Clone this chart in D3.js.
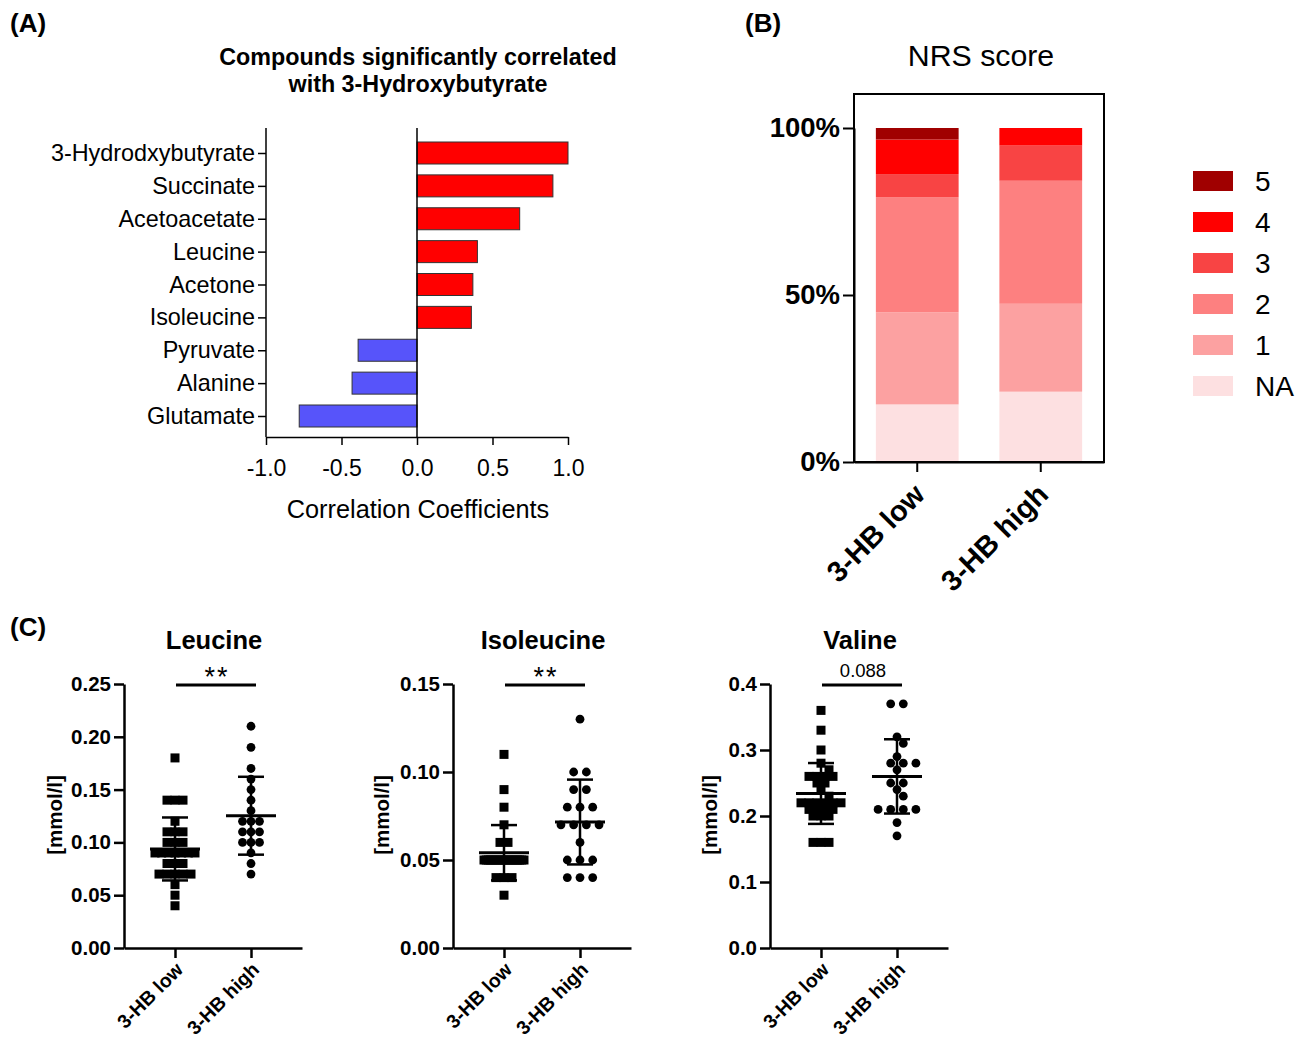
<!DOCTYPE html>
<html>
<head>
<meta charset="utf-8">
<script src="https://cdn.jsdelivr.net/npm/d3@7"></script>
<style>
  body { margin: 0; background: #fff; }
  svg { display: block; font-family: "Liberation Sans", Arial, sans-serif; }
</style>
</head>
<body>
<div id="chart"></div>
<script>
// ---------- data ----------
// (A) correlation bars
var compounds = ["3-Hydrodxybutyrate", "Succinate", "Acetoacetate", "Leucine", "Acetone",
                 "Isoleucine", "Pyruvate", "Alanine", "Glutamate"];
var corrCoefs = [1.0, 0.90, 0.68, 0.40, 0.37, 0.36, -0.39, -0.43, -0.78];
var corrTicks = [-1.0, -0.5, 0.0, 0.5, 1.0];

// (B) NRS score, counts per category (stacked to 100%)
var nrsGroups = ["3-HB low", "3-HB high"];
var nrsKeys = ["NA", "1", "2", "3", "4", "5"];
var nrsLow = [5, 8, 10, 2, 3, 1];
var nrsHigh = [4, 5, 7, 2, 1, 0];
var nrsColors = ["#fde0e1", "#fca1a1", "#fd8080", "#f84444", "#ff0000", "#a00000"];
var nrsTicks = [0, 0.5, 1];

// (C) individual values [mmol/l]
var hbGroups = ["3-HB low", "3-HB high"];
var leucineLow = [0.18, 0.14, 0.14, 0.14, 0.12, 0.11, 0.11, 0.11, 0.10, 0.10, 0.10,
                  0.09, 0.09, 0.09, 0.09, 0.09, 0.09, 0.09, 0.08, 0.08, 0.08,
                  0.07, 0.07, 0.07, 0.07, 0.07, 0.06, 0.05, 0.04];
var leucineHigh = [0.21, 0.19, 0.17, 0.16, 0.15, 0.14, 0.13, 0.12, 0.12, 0.12,
                   0.11, 0.11, 0.11, 0.10, 0.10, 0.10, 0.09, 0.08, 0.07];
var isoleucineLow = [0.11, 0.09, 0.08, 0.07, 0.06, 0.06,
                     0.05, 0.05, 0.05, 0.05, 0.05, 0.05, 0.05, 0.05, 0.05, 0.05,
                     0.05, 0.05, 0.05, 0.05, 0.05, 0.05, 0.05, 0.05, 0.05,
                     0.04, 0.04, 0.04, 0.03];
var isoleucineHigh = [0.13, 0.10, 0.10, 0.09, 0.09, 0.08, 0.08, 0.08, 0.07, 0.07,
                      0.07, 0.07, 0.06, 0.05, 0.05, 0.05, 0.04, 0.04, 0.04];
var valineLow = [0.36, 0.33, 0.30, 0.28, 0.27, 0.26, 0.26, 0.26, 0.26, 0.25, 0.25,
                 0.24, 0.23, 0.22, 0.22, 0.22, 0.22, 0.22, 0.22, 0.21, 0.21, 0.21, 0.21,
                 0.20, 0.20, 0.20, 0.16, 0.16, 0.16];
var valineHigh = [0.37, 0.37, 0.32, 0.31, 0.29, 0.28, 0.28, 0.28, 0.27, 0.25, 0.25,
                  0.24, 0.23, 0.21, 0.21, 0.21, 0.21, 0.19, 0.17];
var leucineTicks = [0, 0.05, 0.10, 0.15, 0.20, 0.25];
var isoleucineTicks = [0, 0.05, 0.10, 0.15];
var valineTicks = [0, 0.1, 0.2, 0.3, 0.4];

// ---------- svg ----------
var svg = d3.select("#chart").append("svg")
    .attr("width", 1306)
    .attr("height", 1043);

function inkAxis(g, sw) {
  g.selectAll("path, line").attr("stroke", "#000").attr("stroke-width", sw);
}

function panelLetter(txt, x, y) {
  svg.append("text").attr("x", x).attr("y", y)
    .attr("font-size", 26).attr("font-weight", "bold").text(txt);
}

// ================= (A) =================
panelLetter("(A)", 10, 32);

var xA = d3.scaleLinear().domain([-1, 1]).range([266, 568]);
var yA = d3.scalePoint().domain(compounds).range([153, 416]);

svg.selectAll(".titleA")
  .data(["Compounds significantly correlated", "with 3-Hydroxybutyrate"])
  .join("text")
    .attr("x", 418)
    .attr("y", (d, i) => 65 + i * 27)
    .attr("text-anchor", "middle")
    .attr("font-size", 23.3)
    .attr("font-weight", "bold")
    .text(d => d);

svg.append("g")
  .selectAll("rect")
  .data(compounds)
  .join("rect")
    .attr("x", (d, i) => xA(Math.min(0, corrCoefs[i])))
    .attr("y", d => yA(d) - 11)
    .attr("width", (d, i) => Math.abs(xA(corrCoefs[i]) - xA(0)))
    .attr("height", 22)
    .attr("fill", (d, i) => corrCoefs[i] > 0 ? "#ff0000" : "#5754fa")
    .attr("stroke", "#333")
    .attr("stroke-width", 1);

// zero line
svg.append("line")
  .attr("x1", xA(0)).attr("x2", xA(0))
  .attr("y1", 128).attr("y2", 437)
  .attr("stroke", "#000").attr("stroke-width", 1.5);

var yAxisA = svg.append("g")
  .attr("transform", "translate(" + xA(-1) + ",0)")
  .call(d3.axisLeft(yA).tickSize(8).tickSizeOuter(0).tickPadding(3));
yAxisA.select(".domain").remove();
yAxisA.append("line").attr("y1", 128).attr("y2", 437);
inkAxis(yAxisA, 1.5);
yAxisA.selectAll("text").attr("font-size", 23.4).attr("fill", "#000")
  .attr("font-family", "Liberation Sans, Arial, sans-serif");

var xAxisA = svg.append("g")
  .attr("transform", "translate(0,437)")
  .call(d3.axisBottom(xA).tickValues(corrTicks).tickSize(8).tickSizeOuter(0)
        .tickFormat(d => d.toFixed(1)));
inkAxis(xAxisA, 1.5);
xAxisA.selectAll("text").attr("font-size", 23).attr("fill", "#000")
  .attr("y", 23).attr("font-family", "Liberation Sans, Arial, sans-serif");

svg.append("text")
  .attr("x", 418).attr("y", 518)
  .attr("text-anchor", "middle")
  .attr("font-size", 25.3)
  .text("Correlation Coefficients");

// ================= (B) =================
panelLetter("(B)", 745, 32);

svg.append("text")
  .attr("x", 981).attr("y", 66)
  .attr("text-anchor", "middle")
  .attr("font-size", 30.3)
  .text("NRS score");

var nrsRows = nrsGroups.map(function(g, i) {
  var row = {group: g};
  var counts = i === 0 ? nrsLow : nrsHigh;
  nrsKeys.forEach((k, j) => row[k] = counts[j]);
  return row;
});
var nrsSeries = d3.stack().keys(nrsKeys).offset(d3.stackOffsetExpand)(nrsRows);

var xB = d3.scaleBand().domain(nrsGroups).range([854, 1104])
  .paddingInner(0.33).paddingOuter(0.177);
var yB = d3.scaleLinear().domain([0, 1]).range([462, 128]);
var colorB = d3.scaleOrdinal().domain(nrsKeys).range(nrsColors);

svg.append("g")
  .selectAll("g")
  .data(nrsSeries)
  .join("g")
    .attr("fill", d => colorB(d.key))
  .selectAll("rect")
  .data(d => d)
  .join("rect")
    .attr("x", d => xB(d.data.group))
    .attr("y", d => yB(d[1]))
    .attr("height", d => yB(d[0]) - yB(d[1]))
    .attr("width", xB.bandwidth());

// frame
svg.append("rect")
  .attr("x", 854).attr("y", 94)
  .attr("width", 250).attr("height", 368)
  .attr("fill", "none").attr("stroke", "#000").attr("stroke-width", 2);

var yAxisB = svg.append("g")
  .attr("transform", "translate(854,0)")
  .call(d3.axisLeft(yB).tickValues(nrsTicks).tickFormat(d3.format(".0%"))
        .tickSize(11).tickSizeOuter(0).tickPadding(3));
inkAxis(yAxisB, 2);
yAxisB.selectAll("text").attr("font-size", 27.5).attr("font-weight", "bold")
  .attr("fill", "#000").attr("font-family", "Liberation Sans, Arial, sans-serif");

var xAxisB = svg.append("g")
  .attr("transform", "translate(0,462)")
  .call(d3.axisBottom(xB).tickSize(10).tickSizeOuter(0));
inkAxis(xAxisB, 2);
xAxisB.selectAll("text")
  .attr("font-size", 29).attr("font-weight", "bold").attr("fill", "#000")
  .attr("font-family", "Liberation Sans, Arial, sans-serif")
  .attr("text-anchor", "end")
  .attr("y", 0).attr("dy", "0.35em")
  .attr("transform", "translate(2,27) rotate(-45)");

// legend (top = 5)
var legendKeys = nrsKeys.slice().reverse();
var legend = svg.append("g")
  .selectAll("g")
  .data(legendKeys)
  .join("g")
    .attr("transform", (d, i) => "translate(1193," + (181 + i * 41) + ")");
legend.append("rect")
  .attr("x", 0).attr("y", -10)
  .attr("width", 40).attr("height", 20)
  .attr("fill", d => colorB(d));
legend.append("text")
  .attr("x", 62).attr("y", 0).attr("dy", "0.35em")
  .attr("font-size", 28)
  .text(d => d);

// ================= (C) =================
panelLetter("(C)", 10, 636);

var scatterPanels = [
  {title: "Leucine", low: leucineLow, high: leucineHigh, ticks: leucineTicks,
   fmt: ".2f", sig: "**", axisX: 124, step: 8.5, labelOff: 69},
  {title: "Isoleucine", low: isoleucineLow, high: isoleucineHigh, ticks: isoleucineTicks,
   fmt: ".2f", sig: "**", axisX: 453, step: 12.7, labelOff: 71},
  {title: "Valine", low: valineLow, high: valineHigh, ticks: valineTicks,
   fmt: ".1f", sig: "0.088", axisX: 770, step: 12.6, labelOff: 60}
];

// same-value points side by side, rows nudged by half a step when they bump a neighbour row
function placeDots(values, y, step, maxW, size) {
  var rows = d3.groups(values, v => v).sort((a, b) => b[0] - a[0]);
  var placed = [];
  rows.forEach(function(r) {
    var n = r[1].length;
    var s = n > 1 ? Math.min(step, maxW / (n - 1)) : step;
    var base = d3.range(n).map(i => (i - (n - 1) / 2) * s);
    var yy = y(r[0]);
    var shift = 0;
    [0, step / 2, -step / 2, step, -step].some(function(sh) {
      var ok = base.every(bx => placed.every(p => Math.hypot(p.dx - bx - sh, p.y - yy) >= size));
      if (ok) shift = sh;
      return ok;
    });
    base.forEach(bx => placed.push({v: r[0], dx: bx + shift, y: yy}));
  });
  return placed;
}

scatterPanels.forEach(function(cfg) {
  var g = svg.append("g");
  var x = d3.scalePoint().domain(hbGroups).range([cfg.axisX, cfg.axisX + 178]).padding(0.671);
  var y = d3.scaleLinear().domain([0, d3.max(cfg.ticks)]).range([948, 684]);

  g.append("text")
    .attr("x", cfg.axisX + 90).attr("y", 649)
    .attr("text-anchor", "middle")
    .attr("font-size", 25.5).attr("font-weight", "bold")
    .text(cfg.title);

  // significance bar
  g.append("line")
    .attr("x1", x(hbGroups[0]) + 1).attr("x2", x(hbGroups[1]) + 5)
    .attr("y1", 685).attr("y2", 685)
    .attr("stroke", "#000").attr("stroke-width", 3);
  g.append("text")
    .attr("x", (x(hbGroups[0]) + x(hbGroups[1])) / 2 + 4)
    .attr("y", cfg.sig === "**" ? 686 : 677)
    .attr("text-anchor", "middle")
    .attr("font-size", cfg.sig === "**" ? 27 : 18.5)
    .attr("letter-spacing", cfg.sig === "**" ? 2 : 0)
    .text(cfg.sig);

  // axes
  var yAx = g.append("g")
    .attr("transform", "translate(" + cfg.axisX + ",0)")
    .call(d3.axisLeft(y).tickValues(cfg.ticks).tickFormat(d3.format(cfg.fmt))
          .tickSize(10).tickSizeOuter(0).tickPadding(3));
  inkAxis(yAx, 2.5);
  yAx.selectAll("text").attr("font-size", 20.5).attr("font-weight", "bold")
    .attr("fill", "#000").attr("font-family", "Liberation Sans, Arial, sans-serif");

  var xAx = g.append("g")
    .attr("transform", "translate(0,948)")
    .call(d3.axisBottom(x).tickSize(10).tickSizeOuter(0));
  inkAxis(xAx, 2.5);
  xAx.selectAll("text")
    .attr("font-size", 19.5).attr("font-weight", "bold").attr("fill", "#000")
    .attr("font-family", "Liberation Sans, Arial, sans-serif")
    .attr("text-anchor", "end")
    .attr("y", 0).attr("dy", "0.35em")
    .attr("transform", "translate(4,18) rotate(-45)");

  g.append("text")
    .attr("transform", "translate(" + (cfg.axisX - cfg.labelOff) + ",815) rotate(-90)")
    .attr("text-anchor", "middle").attr("dy", "0.35em")
    .attr("font-size", 20.5).attr("font-weight", "bold")
    .text("[mmol/l]");

  // points
  var lowDots = placeDots(cfg.low, y, 8, 40, 9);
  var highDots = placeDots(cfg.high, y, cfg.step, 40, 9);

  g.append("g").selectAll("rect")
    .data(lowDots)
    .join("rect")
      .attr("x", d => x(hbGroups[0]) + d.dx - 4.5)
      .attr("y", d => d.y - 4.5)
      .attr("width", 9).attr("height", 9)
      .attr("fill", "#000");

  g.append("g").selectAll("circle")
    .data(highDots)
    .join("circle")
      .attr("cx", d => x(hbGroups[1]) + d.dx)
      .attr("cy", d => d.y)
      .attr("r", 4.4)
      .attr("fill", "#000");

  // mean +/- SD
  [cfg.low, cfg.high].forEach(function(vals, i) {
    var cx = x(hbGroups[i]);
    var m = d3.mean(vals), sd = d3.deviation(vals);
    var eb = g.append("g").attr("stroke", "#000");
    eb.append("line").attr("x1", cx).attr("x2", cx)
      .attr("y1", y(m + sd)).attr("y2", y(m - sd)).attr("stroke-width", 2.5);
    eb.append("line").attr("x1", cx - 25).attr("x2", cx + 25)
      .attr("y1", y(m)).attr("y2", y(m)).attr("stroke-width", 3);
    [m + sd, m - sd].forEach(function(v) {
      eb.append("line").attr("x1", cx - 13).attr("x2", cx + 13)
        .attr("y1", y(v)).attr("y2", y(v)).attr("stroke-width", 2.5);
    });
  });
});
</script>
</body>
</html>
